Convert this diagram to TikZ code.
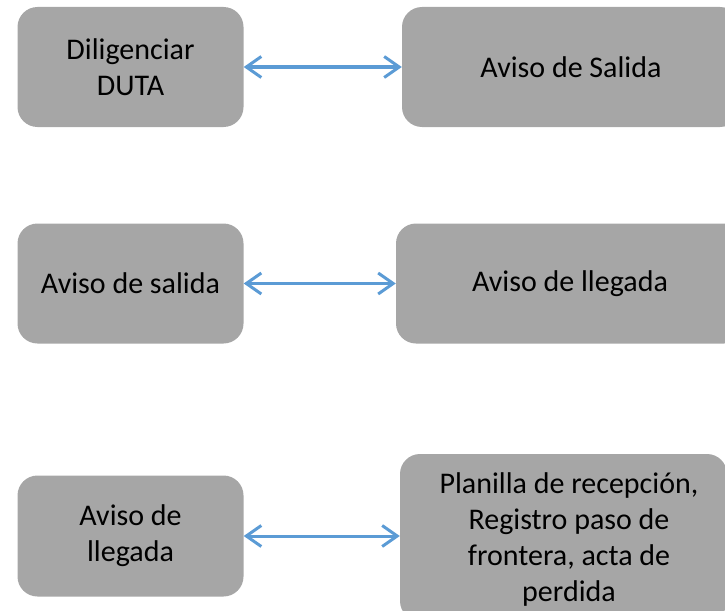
\documentclass[tikz,border=0pt]{standalone}
\usepackage{fontspec}
\setmainfont{Carlito}
\usetikzlibrary{arrows.meta}
\definecolor{boxgray}{HTML}{A6A6A6}
\definecolor{arrowblue}{HTML}{5B9BD5}
\begin{document}
\begin{tikzpicture}[x=1pt,y=-1pt,
  box/.style={fill=boxgray, rounded corners=20pt, inner sep=0pt, align=center,
    font=\fontsize{30}{36}\selectfont},
  link/.style={arrowblue, line width=3pt, {Straight Barb[length=15pt,width=21pt]}-{Straight Barb[length=15pt,width=21pt]}}]
\useasboundingbox (0,0) rectangle (725,610);
\clip (0,0) rectangle (725,610);
% row 1
\node[box, minimum width=226pt, minimum height=120pt] (L1) at (130.5,67) {Diligenciar\\DUTA};
\node[box, minimum width=338pt, minimum height=120pt] (R1) at (571,67) {\raisebox{-2pt}{Aviso de Salida}};
% row 2
\node[box, minimum width=226pt, minimum height=120pt] (L2) at (130.5,283.5) {Aviso de salida};
\node[box, minimum width=348pt, minimum height=120pt] (R2) at (570,283.5) {Aviso de llegada};
% row 3
\node[box, minimum width=226pt, minimum height=121pt] (L3) at (130.5,536) {Aviso de\\llegada};
\node[box, minimum width=327pt, minimum height=167pt] (R3) at (563.5,537.5) {};
\node[font=\fontsize{30}{36}\selectfont, align=center, inner sep=0pt] (R3t) at ([xshift=5.5pt,yshift=-2pt]R3.center) {Planilla de recepción,\\Registro paso de\\frontera, acta de\\perdida};
% connectors
\draw[link] (L1.east) -- (R1.west);
\draw[link] (L2.east) -- (R2.west);
\draw[link] (L3.east) -- (L3.east -| R3.west);
\end{tikzpicture}
\end{document}
